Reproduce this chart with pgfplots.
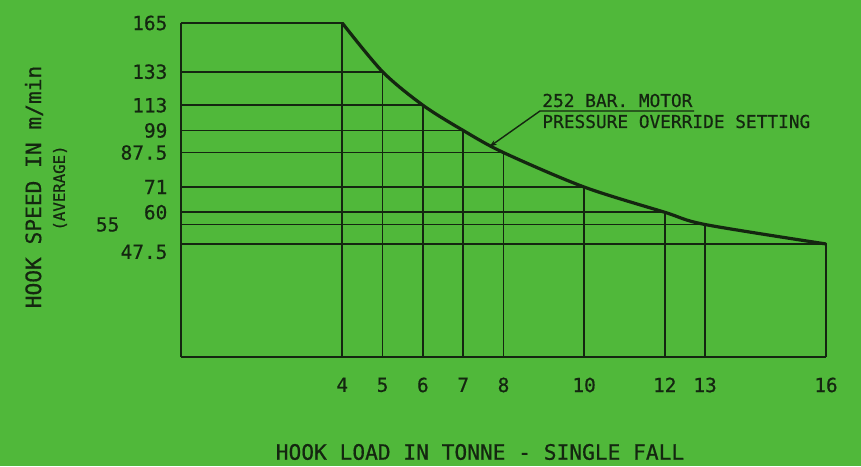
\documentclass[border=0pt]{standalone}
\usepackage{pgfplots}
\pgfplotsset{compat=1.18}
\usetikzlibrary{arrows.meta}
\usepackage{fontspec}
\setmainfont{DejaVu Sans Mono}[FakeBold=0.6]
\definecolor{bg}{RGB}{80,184,58}
\definecolor{ink}{RGB}{20,38,16}
\begin{document}
\begin{tikzpicture}
\fill[bg] (0,0) rectangle (430.5pt,233pt);
\useasboundingbox (0,0) rectangle (430.5pt,233pt);
\begin{axis}[
  at={(90.5pt,54.5pt)}, anchor=south west,
  scale only axis, width=322.5pt, height=167pt,
  xmin=0, xmax=16, ymin=14.8, ymax=165,
  y coord trafo/.code={\pgfmathparse{sqrt(#1)}},
  y coord inv trafo/.code={\pgfmathparse{(#1)^2}},
  axis lines=left, axis line style={-, ink, line width=1pt},
  clip=false,
  /pgf/number format/assume math mode=true,
  xtick={4,5,6,7,8,10,12,13,16},
  xticklabels={4,5,6,7,8,10,12,13,16},
  ytick={60,71,87.5,99,113,133,165},
  yticklabels={60,71,87.5,99,113,133,165},
  extra y ticks={47.5}, extra y tick labels={47.5},
  extra y tick style={grid=none, yticklabel style={yshift=-4pt}},
  major tick length=0pt,
  tick label style={font=\fontsize{9.7}{10}\selectfont, text=ink},
  xticklabel style={yshift=-6.8pt},
  yticklabel style={xshift=-3.3pt},
]
\addplot[ink, line width=0.85pt] coordinates {(0,165) (4,165) (4,14.8)};
\addplot[ink, line width=0.85pt] coordinates {(0,133) (5,133) (5,14.8)};
\addplot[ink, line width=0.85pt] coordinates {(0,113) (6,113) (6,14.8)};
\addplot[ink, line width=0.85pt] coordinates {(0,99) (7,99) (7,14.8)};
\addplot[ink, line width=0.85pt] coordinates {(0,87.5) (8,87.5) (8,14.8)};
\addplot[ink, line width=0.85pt] coordinates {(0,71) (10,71) (10,14.8)};
\addplot[ink, line width=0.85pt] coordinates {(0,60) (12,60) (12,14.8)};
\addplot[ink, line width=0.85pt] coordinates {(0,55) (13,55) (13,14.8)};
\addplot[ink, line width=0.85pt] coordinates {(0,47.5) (16,47.5) (16,14.8)};
\addplot[ink, line width=1.6pt, smooth, tension=0.5] coordinates {
  (4,165) (5,133) (6,113) (7,99) (8,87.5) (10,71) (12,60) (13,55) (16,47.5)};
\node[anchor=east, font=\fontsize{9.7}{10}\selectfont, text=ink] at (axis cs:0,55) [xshift=-27.3pt] {55};
\end{axis}
\node[rotate=90, font=\fontsize{10.6}{11}\selectfont, text=ink] at (17pt,139.5pt) {HOOK SPEED IN m/min};
\node[rotate=90, font=\fontsize{7.85}{8}\selectfont, text=ink] at (30pt,139pt) {(AVERAGE)};
\node[font=\fontsize{10.6}{11}\selectfont, text=ink] at (240pt,7pt) {HOOK LOAD IN TONNE - SINGLE FALL};
\node[anchor=base west, inner sep=0pt, font=\fontsize{8.9}{9}\selectfont, text=ink] at (271pt,179.5pt) {252 BAR. MOTOR};
\node[anchor=base west, inner sep=0pt, font=\fontsize{8.9}{9}\selectfont, text=ink] at (271pt,169pt) {PRESSURE OVERRIDE SETTING};
\draw[ink, line width=0.7pt, -{Stealth[length=4pt,width=2.5pt]}] (347pt,177.5pt) -- (270pt,177.5pt) -- (244.5pt,159.5pt);
\end{tikzpicture}
\end{document}
